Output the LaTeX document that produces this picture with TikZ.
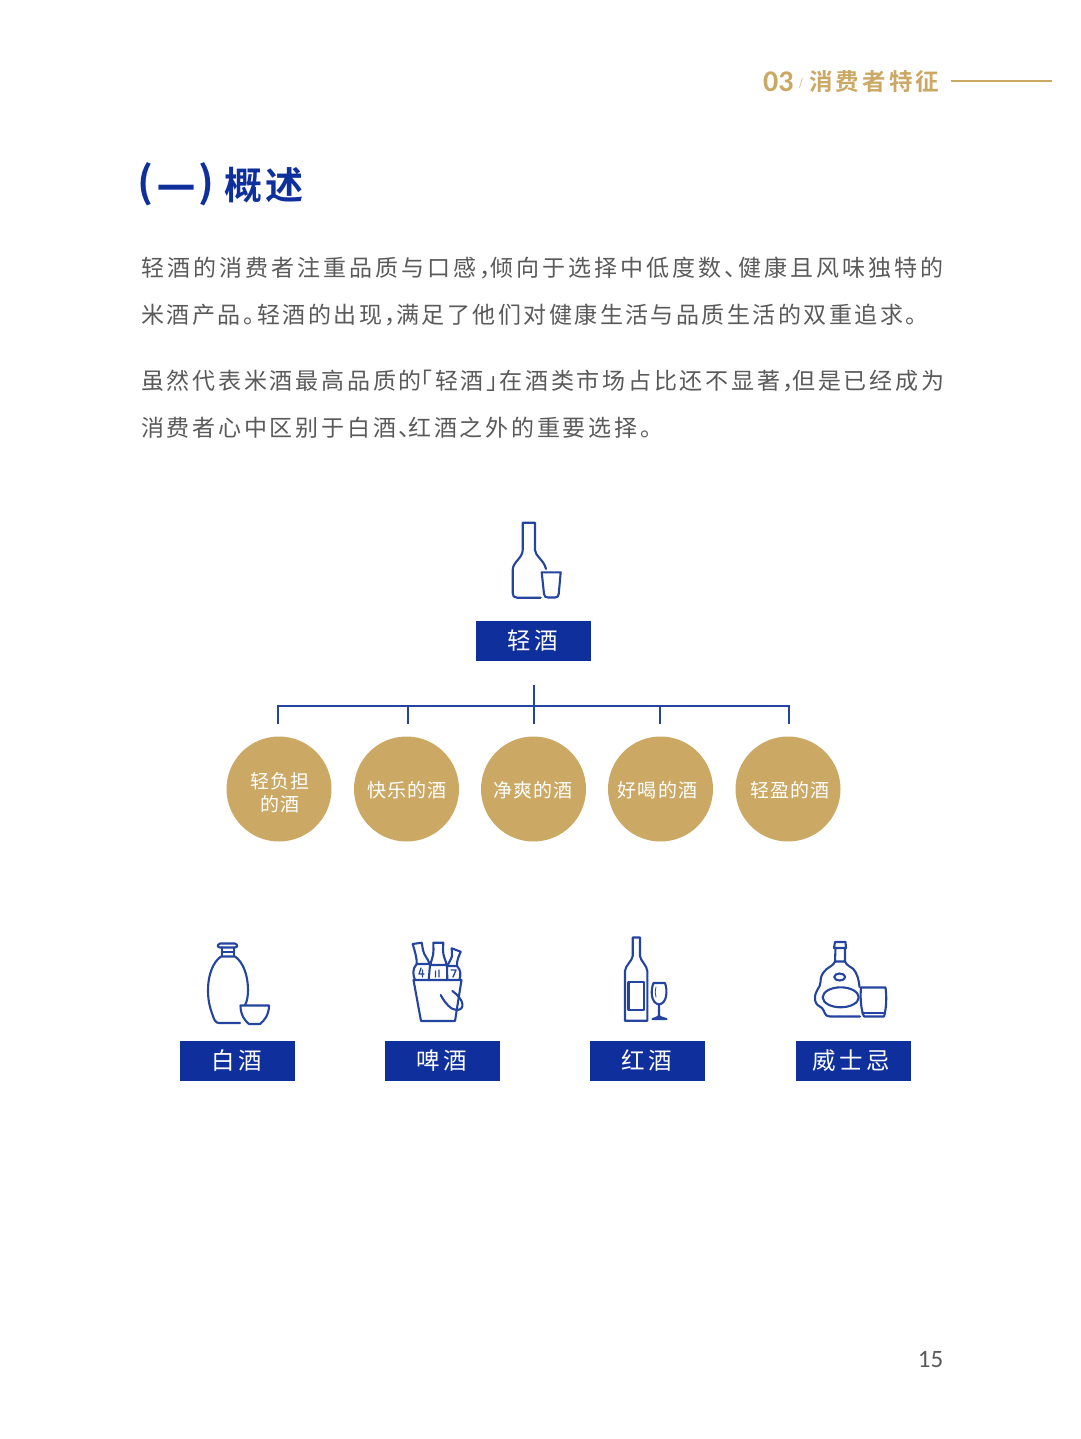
\documentclass[tikz,border=0pt]{standalone}
\usepackage{fontspec}
\setmainfont{Noto Sans CJK SC}
\newfontfamily\bodyf[LetterSpace=12]{Noto Sans CJK SC}
\newfontfamily\bodyone[LetterSpace=13.2]{Noto Sans CJK SC}
\newfontfamily\bodytwo[LetterSpace=10.7]{Noto Sans CJK SC}
\newfontfamily\labf[LetterSpace=14]{Noto Sans CJK SC}
\newfontfamily\circf[LetterSpace=6]{Noto Sans CJK SC}
\newfontfamily\headf[LetterSpace=13.5]{Noto Sans CJK SC Bold}
\newfontfamily\titlef[LetterSpace=8]{Noto Sans CJK SC Bold}
\newfontfamily\titlep{Noto Sans CJK SC Bold}
\newfontfamily\numf{Carlito}
\definecolor{navy}{HTML}{0F2F9C}
\definecolor{iconblue}{HTML}{24449F}
\definecolor{gold}{HTML}{CBA965}
\definecolor{bodygrey}{HTML}{5A5A5A}
\newcommand{\pa}[2]{#2\kern-#1pt\relax}
\newcommand{\pb}[2]{\kern-#1pt\relax #2}
\tikzset{
  bodyline/.style={anchor=west,inner sep=0pt,text=bodygrey},
  bluebox/.style={fill=navy,text=white,minimum width=115,minimum height=40,inner sep=0pt},
  boxtext/.style={text=white,inner sep=0pt,font=\labf\fontsize{23.5}{26}\selectfont},
  goldcircle/.style={circle,fill=gold,minimum size=105,inner sep=0pt},
  circtext/.style={text=white,inner sep=0pt,align=center,font=\circf\fontsize{19}{23}\selectfont},
  icon/.style={draw=iconblue,line width=2.1,line join=round,line cap=round},
  conn/.style={draw=iconblue,line width=1.8}
}
\begin{document}
\begin{tikzpicture}[x=1pt,y=-1pt]
\useasboundingbox (0,0) rectangle (1080,1439);
\fill[white] (0,0) rectangle (1080,1439);

% header
\node[anchor=west,inner sep=0pt,text=gold] (hnum) at (763,82) {\numf\bfseries\fontsize{30}{32}\selectfont 03};
\node[anchor=center,inner sep=0pt,text=gold] (hslash) at (801,83) {\fontsize{10}{12}\selectfont /};
\node[anchor=west,inner sep=0pt,text=gold] (htitle) at (809,82) {\headf\fontsize{23.5}{26}\selectfont 消费者特征};
\coordinate (hl1) at (951,81); \coordinate (hl2) at (1052,81);
\draw[gold,line width=1.8] (hl1) -- (hl2);

% title
\node[inner sep=0pt,text=navy] (tp1) at (145,184) {\titlep\fontsize{42}{44}\selectfont (};
\node[inner sep=0pt,text=navy] (tdash) at (176,194) {\titlef\fontsize{38}{40}\selectfont 一};
\node[inner sep=0pt,text=navy] (tp2) at (206,184) {\titlep\fontsize{42}{44}\selectfont )};
\node[anchor=west,inner sep=0pt,text=navy] (ttext) at (224,185) {\titlef\fontsize{38}{40}\selectfont 概述};

% body
\node[bodyline,font=\bodyone\fontsize{23}{25}\selectfont] (b1) at (141,268) {轻酒的消费者注重品质与口感\pa{12}{，}倾向于选择中低度数\pa{10}{、}健康且风味独特的};
\node[bodyline,font=\bodytwo\fontsize{23}{25}\selectfont] (b2) at (141,315) {米酒产品\pa{8.5}{。}轻酒的出现\pa{11.5}{，}满足了他们对健康生活与品质生活的双重追求。};
\node[bodyline,font=\bodyf\fontsize{23}{25}\selectfont] (b3) at (141,381) {虽然代表米酒最高品质的\pb{12.5}{「}轻酒\pa{10}{」}在酒类市场占比还不显著\pa{13.5}{，}但是已经成为};
\node[bodyline,font=\bodyf\fontsize{23}{25}\selectfont] (b4) at (141,428) {消费者心中区别于白酒\pa{13.5}{、}红酒之外的重要选择。};

% top icon
\draw[icon] (540.7,597.7) -- (517,597.7) .. controls (514,597.7) and (512.7,596) .. (512.7,593) -- (512.7,570)
  .. controls (512.7,562) and (522.7,558) .. (522.7,550) -- (522.7,522.7) -- (535,522.7) -- (535,550) .. controls (535,556) and (544,560) .. (546,569);
\draw[icon] (541.7,572.3) -- (560.7,572.3) -- (558.7,594) .. controls (558.5,596.5) and (557,597.5) .. (555,597.5) -- (548,597.5) .. controls (545.5,597.5) and (544.2,596.5) .. (544,594) -- cycle;

% main box
\node[bluebox] (main) at (533.5,640.5) {};
\node[boxtext] (maint) at (533,640.5) {轻酒};

% connector
\coordinate (trunk) at (534,685);
\coordinate (hubL) at (278,706); \coordinate (hubR) at (789,706);
\coordinate (d1) at (278,724); \coordinate (d2) at (408,724); \coordinate (d3) at (534,724); \coordinate (d4) at (660,724); \coordinate (d5) at (789,724);
\draw[conn] (d1) -- (hubL) -- (hubR) -- (d5);
\draw[conn] (trunk) -- (d3);
\draw[conn] (d2) -- (d2 |- hubL);
\draw[conn] (d4) -- (d4 |- hubL);

% circles
\node[goldcircle] (c1) at (279,789) {};
\node[goldcircle] (c2) at (406.5,789) {};
\node[goldcircle] (c3) at (533.5,789) {};
\node[goldcircle] (c4) at (660.5,789) {};
\node[goldcircle] (c5) at (788,789) {};
\node[circtext] (c1t) at (280,793) {轻负担\\的酒};
\node[circtext] (c2t) at (407,790) {快乐的酒};
\node[circtext] (c3t) at (533,790) {净爽的酒};
\node[circtext] (c4t) at (657.5,790) {好喝的酒};
\node[circtext] (c5t) at (790,790) {轻盈的酒};

% baijiu icon
\draw[icon] (220,943.5) -- (235,943.5) .. controls (238,945) and (238,947) .. (235,947.5) -- (220,947.5) .. controls (217,947) and (217,945) .. (220,943.5) -- cycle;
\draw[icon] (221.7,947.5) -- (221.7,956) (234,947.5) -- (234,956) (221.7,951.7) -- (234,951.7);
\draw[icon] (240,1023) -- (219,1023) .. controls (216,1023) and (214,1020) .. (213,1016) .. controls (209,1006) and (208,998) .. (208,990) .. controls (208,975) and (213,962) .. (221,956.5) -- (235,956.5) .. controls (243,962) and (248,975) .. (248,990) .. controls (248,996) and (247,1002) .. (245,1005);
\draw[icon] (240.5,1005.5) -- (269,1005.5) .. controls (269,1015) and (264,1021) .. (260,1024) -- (249,1024) .. controls (245,1021) and (240.5,1015) .. (240.5,1005.5) -- cycle;

% beer icon
\draw[icon] (413.5,980) -- (461.5,980) -- (455,1021) -- (421,1021) -- cycle;
\draw[icon] (440.7,995) .. controls (445,1003) and (451,1010) .. (456.7,1010) .. controls (465,1010) and (465,1000) .. (452.3,991);
% left bottle
\draw[icon] (412.7,944) -- (421.7,942.7) -- (423,950) .. controls (424,956) and (428,958) .. (429.5,964) -- (416.7,964) .. controls (417,958) and (415,952) .. (412.7,944) -- cycle;
\draw[icon] (416.7,964) .. controls (412,969) and (413,975) .. (415,980);
% middle bottle
\draw[icon] (433.3,942.7) -- (443.3,942.7) -- (443,950) .. controls (443,957) and (446,960) .. (446.5,965) -- (430.5,965) .. controls (431,960) and (433.5,957) .. (433.5,950) -- cycle;
\draw[icon] (430,965) -- (428.7,980) (447,965) -- (447.3,980);
% right bottle
\draw[icon] (451.7,948.3) -- (460.7,951.7) -- (458.5,957) .. controls (457,961) and (457,963) .. (457,966) -- (447,966) .. controls (449,962) and (451,960) .. (452,956) -- cycle;
\draw[icon] (457,966) .. controls (461,970) and (461,975) .. (459.3,980);
\draw[icon,line width=1.4] (421,968) -- (419,974) -- (424,974) (422.5,970) -- (422.5,977) (435.5,971) -- (435.5,977) (439,970) -- (439,977) (451,970) -- (456,970) -- (453,977);

% wine icon
\draw[icon] (632.7,937.5) -- (640,937.5) -- (640,956) .. controls (640,960) and (647.3,966) .. (647.3,971) -- (647.3,1020.7) -- (625,1020.7) -- (625,971) .. controls (625,966) and (632.7,960) .. (632.7,956) -- cycle;
\draw[icon] (628.5,982) -- (644,982) -- (644,1010) -- (628.5,1010) -- cycle;
\draw[icon] (653.5,983) -- (665,983) .. controls (667.5,990) and (667.5,1003) .. (659,1004.5) .. controls (650.5,1003) and (650.5,990) .. (653.5,983) -- cycle;
\draw[icon] (659,1004.5) -- (659,1017) (652.5,1019) .. controls (656,1018) and (658,1017) .. (659,1016) .. controls (660,1017) and (662,1018) .. (666.5,1019) -- cycle;
\draw[icon,line width=0.8] (656,987) .. controls (655,991) and (655,994) .. (656,997);

% whisky icon
\draw[icon] (835,942) -- (845.5,942) -- (846,948) -- (834,948) -- cycle;
\draw[icon] (835.5,948) -- (835,961.5) (845,948) -- (845,961.5) (835,961.5) -- (845,961.5);
\draw[icon] (835,961.5) .. controls (834,965) and (829,967) .. (826.7,969) .. controls (822,973) and (820.5,977) .. (820.5,982) .. controls (820.5,988) and (815,990) .. (815,998) .. controls (815,1005) and (819,1006) .. (822,1008) .. controls (825,1011) and (824,1016.5) .. (830,1016.5) -- (860,1016.5);
\draw[icon] (845,961.5) .. controls (846,965) and (851,967) .. (853.3,969) .. controls (857,973) and (859,980) .. (859.5,987);
\draw[icon] (839.7,977) ellipse [x radius=5.5,y radius=3.5];
\draw[icon] (840.7,997.3) ellipse [x radius=18,y radius=10];
\draw[icon] (861,987.5) -- (885.5,987.5) .. controls (887,998) and (886,1010) .. (884,1016.5) -- (864,1016.5) .. controls (861,1010) and (860,998) .. (861,987.5) -- cycle;
\draw[icon,line width=1.2] (862,1013) -- (885,1013);

% lower boxes
\node[bluebox] (l1) at (237,1061) {};
\node[bluebox] (l2) at (442,1061) {};
\node[bluebox] (l3) at (647.5,1061) {};
\node[bluebox] (l4) at (853,1061) {};
\node[boxtext] (l1t) at (236.5,1061) {白酒};
\node[boxtext] (l2t) at (441.5,1061) {啤酒};
\node[boxtext] (l3t) at (647,1061) {红酒};
\node[boxtext] (l4t) at (851.5,1061) {威士忌};

% page number
\node[anchor=east,inner sep=0pt,text=bodygrey] (pg) at (943.5,1360) {\numf\fontsize{25}{28}\selectfont 15};
\end{tikzpicture}
\end{document}
